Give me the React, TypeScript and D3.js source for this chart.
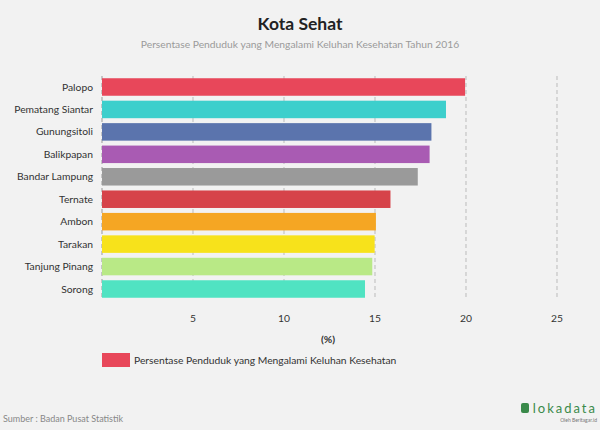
import React from "react";
import * as d3 from "d3";

const cities = ["Palopo", "Pematang Siantar", "Gunungsitoli", "Balikpapan", "Bandar Lampung", "Ternate", "Ambon", "Tarakan", "Tanjung Pinang", "Sorong"];
const values = [19.95, 18.9, 18.1, 18.0, 17.35, 15.85, 15.05, 14.98, 14.85, 14.45];
const colors = ["#e8475a", "#3dcfcc", "#5b74ad", "#a95bb3", "#9a9a9a", "#d6434a", "#f5a623", "#f7e21b", "#b9e986", "#50e3c2"];
const ticks = [5, 10, 15, 20, 25];

const W = 600, H = 430;
const left = 102, right = 557, top = 76, bottom = 300;

export default function App() {
  const x = d3.scaleLinear().domain([0, 25]).range([left, right]);
  const y = d3.scaleBand<string>().domain(cities).range([top, bottom]).paddingInner(0.22).paddingOuter(0.1);
  const font = "Lato, 'Open Sans', sans-serif";
  return (
    <svg width={W} height={H} style={{ position: "absolute", left: 0, top: 0, background: "#f2f2f2" }} fontFamily={font}>
      <rect x={0} y={0} width={W} height={H} fill="#f2f2f2" />
      <text x={300} y={30} textAnchor="middle" fontSize={17.5} fontWeight={700} fill="#222">Kota Sehat</text>
      <text x={300} y={48} textAnchor="middle" fontSize={10.3} fill="#9a9a9a">Persentase Penduduk yang Mengalami Keluhan Kesehatan Tahun 2016</text>
      {[0, ...ticks].map((t) => (
        <line key={t} x1={x(t)} x2={x(t)} y1={top} y2={bottom} stroke={t === 0 ? "#999" : "#bbb"} strokeWidth={1} strokeDasharray="4,3" />
      ))}
      {cities.map((c, i) => (
        <g key={c}>
          <rect x={x(0)} y={y(c)} width={x(values[i]) - x(0)} height={y.bandwidth()} fill={colors[i]} />
          <text x={left - 9} y={(y(c) as number) + y.bandwidth() / 2} dy="0.35em" textAnchor="end" fontSize={10.3} fill="#333">{c}</text>
        </g>
      ))}
      {ticks.map((t) => (
        <text key={t} x={x(t)} y={322} textAnchor="middle" fontSize={10.3} fill="#333">{t}</text>
      ))}
      <text x={328} y={343} textAnchor="middle" fontSize={10.3} fontWeight={700} fill="#333">(%)</text>
      <rect x={102} y={353} width={28} height={14} fill={colors[0]} />
      <text x={134} y={360} dy="0.35em" fontSize={10.3} fill="#333">Persentase Penduduk yang Mengalami Keluhan Kesehatan</text>
      <text x={3} y={422} fontSize={9} fill="#888">Sumber : Badan Pusat Statistik</text>
      <rect x={521} y={403} width={8} height={10} rx={2} fill="#3a8a4a" />
      <text x={597} y={413} textAnchor="end" fontSize={13} fill="#3a8a4a" letterSpacing={2}>lokadata</text>
      <text x={597} y={422} textAnchor="end" fontSize={5} fill="#777">Oleh Beritagar.id</text>
    </svg>
  );
}
